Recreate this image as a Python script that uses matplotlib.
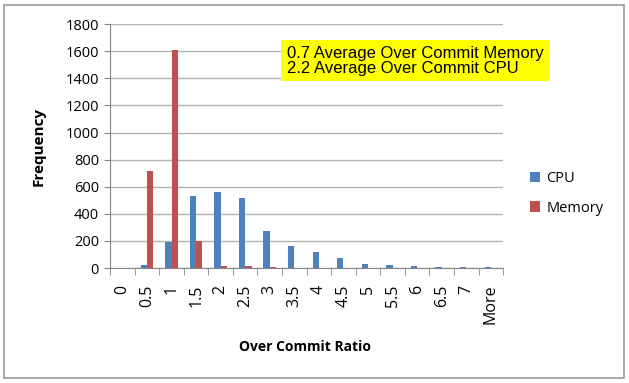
import numpy as np
import matplotlib.pyplot as plt
from matplotlib.patches import Rectangle

categories = ['0', '0.5', '1', '1.5', '2', '2.5', '3', '3.5', '4', '4.5',
              '5', '5.5', '6', '6.5', '7', 'More']
cpu = [0, 25, 190, 535, 565, 515, 275, 165, 118, 72, 30, 25, 12, 5, 5, 5]
memory = [0, 720, 1610, 200, 12, 12, 5, 0, 0, 0, 0, 0, 0, 0, 0, 0]

BLUE = '#4F81BD'
RED = '#C0504D'
GRID = '#b3b3b3'
AXIS = '#868686'

plt.rcParams['font.family'] = ['Open Sans', 'DejaVu Sans']

fig = plt.figure(figsize=(6.29, 3.83), dpi=100)
ax = fig.add_axes([0.175, 0.300, 0.625, 0.637])

x = np.arange(len(categories))
w = 0.26
ax.bar(x - w / 2, cpu, w, color=BLUE, label='CPU', zorder=3)
ax.bar(x + w / 2, memory, w, color=RED, label='Memory', zorder=3)

ax.set_xlim(-0.5, len(categories) - 0.5)
ax.set_ylim(0, 1800)
ax.set_yticks(range(0, 1801, 200))
ax.yaxis.grid(True, color=GRID, linewidth=1, zorder=0)

ax.set_xticks(x)
ax.set_xticklabels(categories, rotation=90, fontsize=11.5)
ax.set_xticks(np.arange(-0.5, len(categories), 1), minor=True)
ax.tick_params(axis='x', which='major', length=0, pad=12)
ax.tick_params(axis='x', which='minor', length=5, color=AXIS, direction='out')
ax.tick_params(axis='y', length=4, color=AXIS, labelsize=10.5, pad=4)

for side in ('top', 'right'):
    ax.spines[side].set_visible(False)
for side in ('left', 'bottom'):
    ax.spines[side].set_color(AXIS)

ax.set_ylabel('Frequency', fontsize=11, fontweight='bold')
ax.yaxis.set_label_coords(-0.165, 0.5)
fig.text(0.485, 0.094, 'Over Commit Ratio', fontsize=10, fontweight='bold',
         ha='center', va='center')

fig.legend(loc='center left', bbox_to_anchor=(0.822, 0.495), frameon=False,
           fontsize=10.5, handlelength=0.7, handleheight=0.7,
           handletextpad=0.4, labelspacing=1.0)

# yellow note box
fig.text(0.456, 0.842, '0.7 Average Over Commit Memory\n2.2 Average Over Commit CPU',
         family=['Liberation Sans', 'DejaVu Sans'], fontsize=12,
         linespacing=1.0, va='center', ha='left',
         bbox=dict(boxstyle='square,pad=0.35', facecolor='#FFFF00', edgecolor='none'))

# outer chart border
fig.patches.append(Rectangle((0.006, 0.012), 0.986, 0.975, transform=fig.transFigure,
                             fill=False, edgecolor='#9a9a9a', linewidth=1.2))

fig.savefig('out.png', dpi=100)
